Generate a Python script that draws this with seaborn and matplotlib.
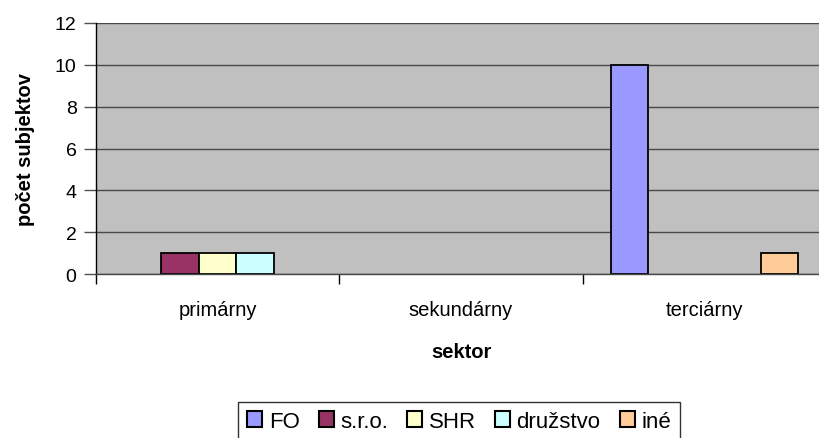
import pandas as pd
import seaborn as sns
import matplotlib.pyplot as plt
from matplotlib.ticker import FixedLocator

# data
sektory = ['primárny', 'sekundárny', 'terciárny']
formy = ['FO', 's.r.o.', 'SHR', 'družstvo', 'iné']
fo = [0, 0, 10]
sro = [1, 0, 0]
shr = [1, 0, 0]
druzstvo = [1, 0, 0]
ine = [0, 0, 1]
farby = ['#9999FF', '#993366', '#FFFFCC', '#CCFFFF', '#FFCC99']

rows = []
for forma, vals in zip(formy, [fo, sro, shr, druzstvo, ine]):
    for s, v in zip(sektory, vals):
        rows.append({'sektor': s, 'forma': forma, 'pocet': v})
df = pd.DataFrame(rows)

sns.set_style('white')
plt.rcParams['font.family'] = ['Liberation Sans', 'DejaVu Sans']
plt.rcParams['text.color'] = 'black'
plt.rcParams['axes.labelcolor'] = 'black'
plt.rcParams['xtick.color'] = 'black'
plt.rcParams['ytick.color'] = 'black'

fig = plt.figure(figsize=(8.19, 4.39), dpi=100)
# plot area runs a little past the right edge of the picture
ax = fig.add_axes([96 / 819, 1 - 275 / 439, 730 / 819, (275 - 24) / 439])
ax.set_facecolor('#C0C0C0')

sns.barplot(data=df, x='sektor', y='pocet', hue='forma', order=sektory,
            hue_order=formy, palette=farby, width=0.77, saturation=1,
            edgecolor='black', linewidth=1.3, ax=ax, legend=True)

# Excel does not draw zero-height bars
for p in ax.patches:
    if p.get_height() == 0:
        p.set_linewidth(0)

ax.set_ylim(0, 12)
ax.set_yticks(range(0, 13, 2))
ax.set_xlim(-0.5, 2.5)
ax.yaxis.grid(True, color='#484848', linewidth=1)
ax.set_axisbelow(True)
for side in ['top', 'right']:
    ax.spines[side].set_visible(False)
ax.spines['left'].set_color('black')
ax.spines['bottom'].set_color('#484848')
ax.spines['left'].set_linewidth(1)
ax.spines['bottom'].set_linewidth(1)

ax.tick_params(axis='y', left=True, length=9, width=1, color='#505050',
               labelsize=14, pad=5)
ax.tick_params(axis='x', which='major', length=0, labelsize=14.5, pad=19)
ax.xaxis.set_minor_locator(FixedLocator([-0.5, 0.5, 1.5, 2.5]))
ax.tick_params(axis='x', which='minor', bottom=True, length=7, width=1,
               color='black')

ax.set_xlabel('sektor', fontsize=14.5, fontweight='bold', labelpad=16)
ax.set_ylabel('počet subjektov', fontsize=14.5, fontweight='bold', labelpad=14)

handles, labels = ax.get_legend_handles_labels()
ax.get_legend().remove()
leg = fig.legend(handles, labels, loc='upper center', ncol=5,
                 bbox_to_anchor=(459 / 819, 1 - 403 / 439), fontsize=16,
                 frameon=True, fancybox=False, edgecolor='black',
                 handlelength=0.68, handleheight=0.68, handletextpad=0.3,
                 columnspacing=0.85, borderpad=0.4, borderaxespad=0)
leg.get_frame().set_linewidth(1)
for h in leg.legend_handles:
    h.set_edgecolor('black')
    h.set_linewidth(1.5)

fig.savefig('out.png', dpi=100)
